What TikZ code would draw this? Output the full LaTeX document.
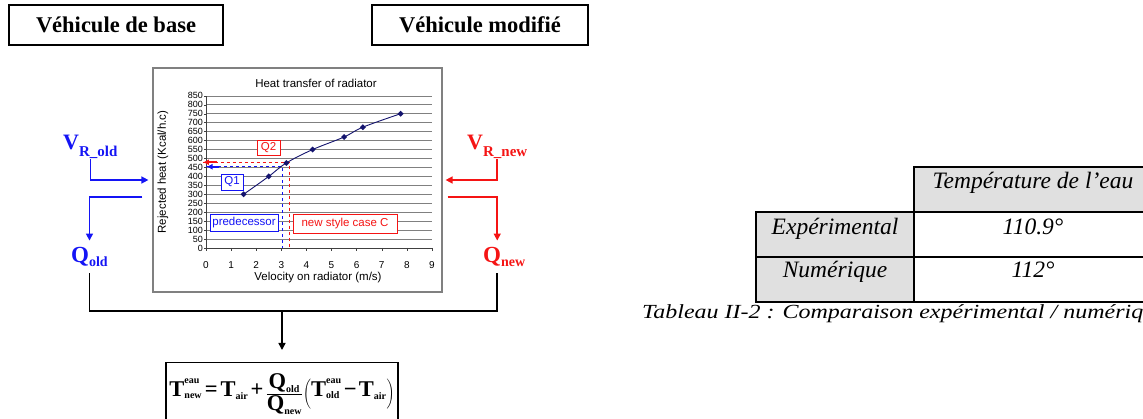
\documentclass[tikz,border=0pt]{standalone}
\usepackage{fontspec}
\setmainfont{Liberation Serif}
\newfontfamily\graffont{Liberation Sans}
\usetikzlibrary{arrows.meta}
\definecolor{azul}{RGB}{20,20,245}
\definecolor{rojo}{RGB}{245,20,20}
\definecolor{marino}{RGB}{20,20,110}
\definecolor{gristabla}{RGB}{224,224,224}
\newcommand{\indice}[1]{\hbox{\fontsize{10}{10}\selectfont\bfseries #1}}
\newcommand{\letra}[1]{\hbox{\fontsize{22.5}{26}\selectfont\bfseries #1}}
\newcommand{\formulaeau}{$\displaystyle
    \letra{T}^{\indice{eau}}_{\indice{new}} \mathrel{\letra{=}} \letra{T}_{\indice{air}} \mathbin{\letra{+}}
    \frac{\letra{Q}_{\indice{old}}}{\letra{Q}_{\indice{new}}}
    \Biggl(\letra{T}^{\indice{eau}}_{\indice{old}} \mathbin{\letra{−}} \letra{T}_{\indice{air}}\Biggr)$}

\begin{document}
\begin{tikzpicture}[x=1pt,y=-1pt,
    caja/.style={draw, line width=1.5pt, minimum height=40pt, font=\fontsize{22.5}{26}\selectfont\bfseries},
    conector/.style={line width=1.5pt, -{Triangle[length=7pt,width=7pt]}},
    etiq/.style={draw, line width=0.8pt, fill=white, inner sep=0pt, font=\graffont\fontsize{11.5}{12}\selectfont},
    grafico/.style={font=\graffont\fontsize{11.5}{12}\selectfont},
    varnodo/.style={anchor=base west, inner sep=0pt, font=\bfseries},
    celda/.style={draw, line width=1.5pt},
    texto/.style={anchor=base, inner sep=0pt, font=\fontsize{23.5}{27}\selectfont\itshape}]
    \useasboundingbox (0,0) rectangle (1143,419);
    \clip (0,0) rectangle (1143,419);

    % Cajas de los vehiculos
    \node[caja, minimum width=214pt] (base) at (116,25) {Véhicule de base};
    \node[caja, minimum width=216pt] (modif) at (480,25) {Véhicule modifié};

    % Marco del grafico y sus textos
    \node[draw=gray, line width=1.2pt, minimum width=289pt, minimum height=224pt] (chart) at (297.5,180) {};
    \node[grafico] (titulo) at (316,83) {Heat transfer of radiator};
    \node[grafico, rotate=90] (ejey) at (163,172) {Rejected heat (Kcal/h.c)};
    \node[grafico] (ejex) at (318,278) {Velocity on radiator (m/s)};

    % Zona de datos: v en m/s, Q en Kcal/h.c
    \begin{scope}[shift={(206,248)}, x=25.1pt, y=0.179pt]
        \foreach \q in {50,100,...,850}
            \draw[gray, line width=0.6pt] (0,\q) -- (9,\q);
        \draw[darkgray, line width=0.9pt] (0,0) -- (9,0);
        \draw[darkgray, line width=0.9pt] (0,0) -- (0,850);
        \foreach \v in {0,...,9} {
            \draw[darkgray] (\v,0) -- ++(0pt,-3pt);
            \node[font=\graffont\fontsize{10}{10}\selectfont] (xt\v) at ([yshift=-17pt]\v,0) {\v};
        }
        \foreach \q in {0,50,...,850} {
            \draw[darkgray] (0,\q) -- ++(-2pt,0pt);
            \node[anchor=east, inner sep=1pt, font=\graffont\fontsize{9}{9}\selectfont] (yt\q) at ([xshift=-2pt]0,\q) {\q};
        }

        % Lineas de lectura Q1 y Q2
        \draw[azul, dashed, line width=0.8pt] (0,454) -- (3.04,454) -- (3.04,0);
        \draw[rojo, dashed, line width=0.8pt] (-0.12,479) -- (3.33,479) -- (3.33,0);
        \draw[rojo, line width=1.6pt, -{Latex[length=6pt,width=6pt]}] (0.45,479) -- (-0.12,479);
        \draw[azul, line width=1.6pt, -{Latex[length=6pt,width=6pt]}] (0.52,454) -- (0.02,454);

        % Curva del radiador
        \draw[marino, line width=0.9pt] plot[smooth, tension=0.6] coordinates {(1.5,300) (2.5,400) (3.2,475) (4.25,550) (5.5,620) (6.25,675) (7.75,750)};
        \foreach \v/\q in {1.5/300, 2.5/400, 3.2/475, 4.25/550, 5.5/620, 6.25/675, 7.75/750}
            \fill[marino] (\v,\q) +(-3pt,0pt) -- +(0pt,3pt) -- +(3pt,0pt) -- +(0pt,-3pt) -- cycle;
    \end{scope}

    % Etiquetas dentro del grafico
    \node[etiq, draw=rojo, text=rojo, minimum width=23pt, minimum height=15pt] (q2) at (268.5,147.5) {Q2};
    \node[etiq, draw=azul, text=azul, minimum width=22pt, minimum height=16pt] (q1) at (232,182) {Q1};
    \node[etiq, draw=azul, text=azul, minimum width=68pt, minimum height=17pt] (antes) at (244,222.5) {predecessor};
    \node[etiq, draw=rojo, text=rojo, minimum width=104pt, minimum height=19pt] (nuevo) at (345,223.5) {new style case C};

    % Variables del vehiculo de base y del modificado
    \node[varnodo, text=azul] (vold) at (63,150) {\fontsize{22}{22}\selectfont V\raisebox{-7pt}{\fontsize{15}{15}\selectfont R\_old}};
    \node[varnodo, text=rojo] (vnew) at (467,150) {\fontsize{22}{22}\selectfont V\raisebox{-7pt}{\fontsize{15}{15}\selectfont R\_new}};
    \node[varnodo, text=azul] (qold) at (71,263) {\fontsize{23}{23}\selectfont Q\raisebox{-4pt}{\fontsize{14}{14}\selectfont old}};
    \node[varnodo, text=rojo] (qnew) at (483,263) {\fontsize{23}{23}\selectfont Q\raisebox{-4pt}{\fontsize{14}{14}\selectfont new}};

    % Conectores azules
    \draw[conector, azul, shorten >=4pt] (vold.south) |- (chart.west);
    \draw[conector, azul, shorten >=7pt] ([xshift=-10pt,yshift=-17pt]chart.west) -| (qold.north);

    % Conectores rojos
    \draw[conector, rojo, shorten >=3pt] (vnew.south) |- (chart.east);
    \draw[conector, rojo, shorten >=7pt] ([xshift=5pt,yshift=-17pt]chart.east) -| (vnew.south |- qnew.north);

    % Formula final
    \node[draw, line width=1.5pt, minimum width=232pt, minimum height=62pt, inner sep=0pt, anchor=north] (formula) at (282,362) {\formulaeau};

    % Union de Q_old y Q_new hacia la formula
    \coordinate (union) at (282,311);
    \draw[line width=1.5pt, shorten <=6pt, shorten >=6pt] (qold.south) |- (union) -| (vnew.south |- qnew.south);
    \draw[conector, shorten >=12pt] (union) -- (formula.north);

    % Tabla de comparacion
    \filldraw[celda, fill=gristabla] (914,167) rectangle (1160,212);
    \filldraw[celda, fill=gristabla] (756,212) rectangle (914,257);
    \filldraw[celda, fill=gristabla] (756,257) rectangle (914,302);
    \draw[celda] (914,212) rectangle (1160,257);
    \draw[celda] (914,257) rectangle (1160,302);
    \node[texto] (temp) at (1033,189) {Température de l’eau};
    \node[texto] (exp) at (835,235) {Expérimental};
    \node[texto] (expval) at (1033,235) {110.9°};
    \node[texto] (num) at (835,278) {Numérique};
    \node[texto] (numval) at (1033,278) {112°};
    \node[texto, anchor=base west, font=\fontsize{20}{24}\selectfont\itshape] (leyenda) at (642,319) {\scalebox{1.2}[1]{Tableau II-2 : Comparaison expérimental / numérique}};

\end{tikzpicture}
\end{document}
